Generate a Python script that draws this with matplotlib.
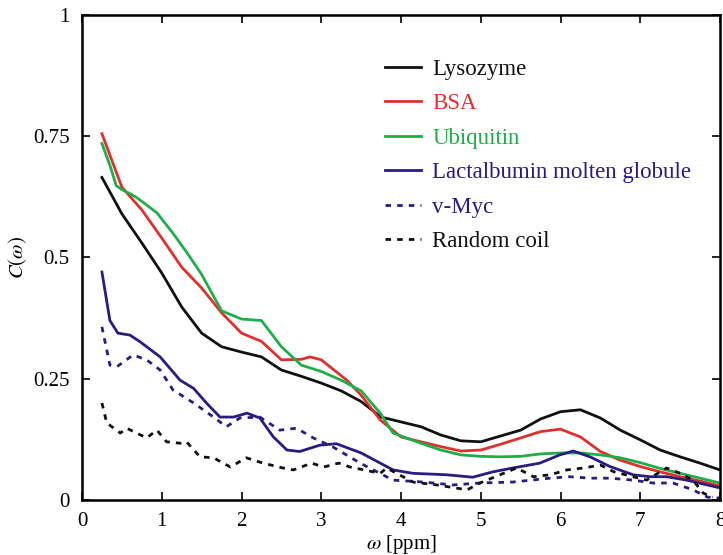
import matplotlib
matplotlib.use("Agg")
import matplotlib.pyplot as plt

plt.rcParams['font.family'] = ['Liberation Serif', 'DejaVu Serif']
plt.rcParams['mathtext.fontset'] = 'stix'

# Lysozyme
lys_x = [0.25, 0.5, 0.75, 1.0, 1.25, 1.5, 1.75, 2.0, 2.25, 2.5, 2.75, 3.0, 3.25, 3.5, 3.75, 4.0,
         4.25, 4.5, 4.75, 5.0, 5.25, 5.5, 5.75, 6.0, 6.25, 6.5, 6.75, 7.0, 7.25, 7.5, 7.75, 8.0]
lys_y = [0.665, 0.59, 0.53, 0.468, 0.398, 0.344, 0.316, 0.305, 0.295, 0.268, 0.255, 0.241, 0.225, 0.203, 0.171, 0.161,
         0.151, 0.134, 0.122, 0.12, 0.132, 0.144, 0.167, 0.182, 0.186, 0.169, 0.144, 0.124, 0.103, 0.089, 0.076, 0.062]

# BSA
bsa_x = [0.25, 0.5, 0.75, 1.0, 1.25, 1.5, 1.75, 2.0, 2.25, 2.5, 2.75, 2.86, 3.0, 3.32, 3.5, 3.74, 4.0,
         4.25, 4.5, 4.75, 5.0, 5.25, 5.5, 5.75, 6.0, 6.25, 6.5, 6.75, 7.0, 7.25, 7.5, 7.75, 8.0]
bsa_y = [0.755, 0.645, 0.598, 0.54, 0.48, 0.437, 0.386, 0.344, 0.327, 0.289, 0.29, 0.295, 0.289, 0.247, 0.216, 0.165, 0.13,
         0.12, 0.11, 0.101, 0.103, 0.115, 0.128, 0.141, 0.146, 0.13, 0.1, 0.082, 0.069, 0.058, 0.048, 0.039, 0.029]

# Ubiquitin
ubq_x = [0.25, 0.35, 0.43, 0.5, 0.62, 0.69, 0.94, 1.14, 1.32, 1.5, 1.75, 2.0, 2.25, 2.5, 2.75, 3.0, 3.25, 3.5, 3.74, 3.9,
         4.25, 4.5, 4.75, 5.0, 5.25, 5.5, 5.75, 6.0, 6.25, 6.5, 6.75, 7.0, 7.25, 7.5, 7.75, 8.0]
ubq_y = [0.735, 0.69, 0.648, 0.64, 0.63, 0.623, 0.592, 0.55, 0.509, 0.465, 0.39, 0.373, 0.37, 0.316, 0.278, 0.265, 0.247, 0.225, 0.179, 0.138,
         0.117, 0.103, 0.093, 0.09, 0.089, 0.09, 0.095, 0.097, 0.097, 0.093, 0.087, 0.077, 0.065, 0.055, 0.045, 0.035]

# Lactalbumin molten globule
lac_x = [0.25, 0.35, 0.45, 0.6, 0.73, 0.98, 1.23, 1.4, 1.56, 1.73, 1.9, 2.07, 2.23, 2.4, 2.57, 2.73, 2.98, 3.19,
         3.5, 3.9, 4.15, 4.57, 4.9, 5.15, 5.4, 5.74, 5.99, 6.16, 6.37, 6.62, 6.91, 7.12, 7.33, 7.58, 7.84, 8.0]
lac_y = [0.47, 0.37, 0.344, 0.34, 0.326, 0.295, 0.247, 0.23, 0.2, 0.171, 0.171, 0.179, 0.169, 0.13, 0.103, 0.1, 0.113, 0.116,
         0.097, 0.062, 0.055, 0.052, 0.047, 0.058, 0.066, 0.076, 0.093, 0.101, 0.089, 0.069, 0.052, 0.048, 0.048, 0.041, 0.031, 0.025]

# v-Myc
myc_x = [0.25, 0.35, 0.44, 0.64, 0.81, 0.98, 1.14, 1.4, 1.65, 1.81, 1.98, 2.23, 2.48, 2.69, 2.9, 3.15, 3.5, 3.9,
         4.28, 4.65, 4.99, 5.4, 5.87, 6.12, 6.37, 6.62, 6.91, 7.16, 7.41, 7.66, 7.84, 8.0]
myc_y = [0.357, 0.278, 0.275, 0.299, 0.289, 0.268, 0.227, 0.2, 0.171, 0.151, 0.169, 0.171, 0.144, 0.148, 0.128, 0.109, 0.075, 0.041,
         0.037, 0.031, 0.035, 0.037, 0.045, 0.048, 0.045, 0.045, 0.041, 0.035, 0.035, 0.021, 0.006, 0.004]

# Random coil
rc_x = [0.25, 0.31, 0.48, 0.56, 0.81, 0.94, 1.06, 1.23, 1.31, 1.48, 1.65, 1.86, 2.06, 2.27, 2.52, 2.65, 2.88, 3.03, 3.22,
        3.36, 3.74, 3.82, 4.15, 4.45, 4.83, 4.99, 5.24, 5.45, 5.66, 5.87, 6.08, 6.29, 6.5, 6.67, 6.91, 7.08, 7.33,
        7.5, 7.66, 7.79, 7.91]
rc_y = [0.2, 0.159, 0.138, 0.148, 0.128, 0.144, 0.12, 0.117, 0.12, 0.089, 0.087, 0.068, 0.087, 0.076, 0.066, 0.062, 0.076, 0.068, 0.076,
        0.068, 0.055, 0.066, 0.037, 0.031, 0.021, 0.035, 0.052, 0.066, 0.048, 0.052, 0.062, 0.066, 0.072, 0.058, 0.048, 0.041, 0.066,
        0.055, 0.041, 0.014, 0.006]

BLACK = '#111111'
RED = '#e0302e'
GREEN = '#1fae4a'
NAVY = '#2a1c80'

fig = plt.figure(figsize=(7.23, 5.55), dpi=100)
ax = fig.add_axes([0.1134, 0.0991, 0.8825, 0.874])

ax.plot(lys_x, lys_y, color=BLACK, lw=2, label='Lysozyme')
ax.plot(bsa_x, bsa_y, color=RED, lw=2, label='BSA')
ax.plot(ubq_x, ubq_y, color=GREEN, lw=2, label='Ubiquitin')
ax.plot(lac_x, lac_y, color=NAVY, lw=2, label='Lactalbumin molten globule')
ax.plot(myc_x, myc_y, color=NAVY, lw=2, dashes=(2, 2.2), label='v-Myc')
ax.plot(rc_x, rc_y, color=BLACK, lw=2, dashes=(2, 2.2), label='Random coil')

ax.set_xlim(0, 8)
ax.set_ylim(0, 1)
ax.set_xticks([0, 1, 2, 3, 4, 5, 6, 7, 8])
ax.set_xticklabels(['0', '1', '2', '3', '4', '5', '6', '7', '8'])
ax.set_yticks([0, 0.25, 0.5, 0.75, 1])
ax.set_yticklabels(['0', '0.25', '0.5', '0.75', '1'])
ax.tick_params(direction='in', length=6, width=1.2, top=True, right=True, labelsize=15)
ax.tick_params(axis='y', pad=9)
ax.tick_params(axis='x', pad=9)
for s in ax.spines.values():
    s.set_linewidth(1.8)

ax.set_xlabel(r'$\omega$ [ppm]', fontsize=15, labelpad=1)
ax.set_ylabel(r'$C(\omega)$', fontsize=15, labelpad=3)

leg = ax.legend(loc='upper left', bbox_to_anchor=(0.475, 0.91), frameon=False, fontsize=16.5,
                handlelength=1.55, handletextpad=0.52, labelspacing=0.59, borderaxespad=0, borderpad=0,
                labelcolor='linecolor')

fig.savefig('out.png', dpi=100)
